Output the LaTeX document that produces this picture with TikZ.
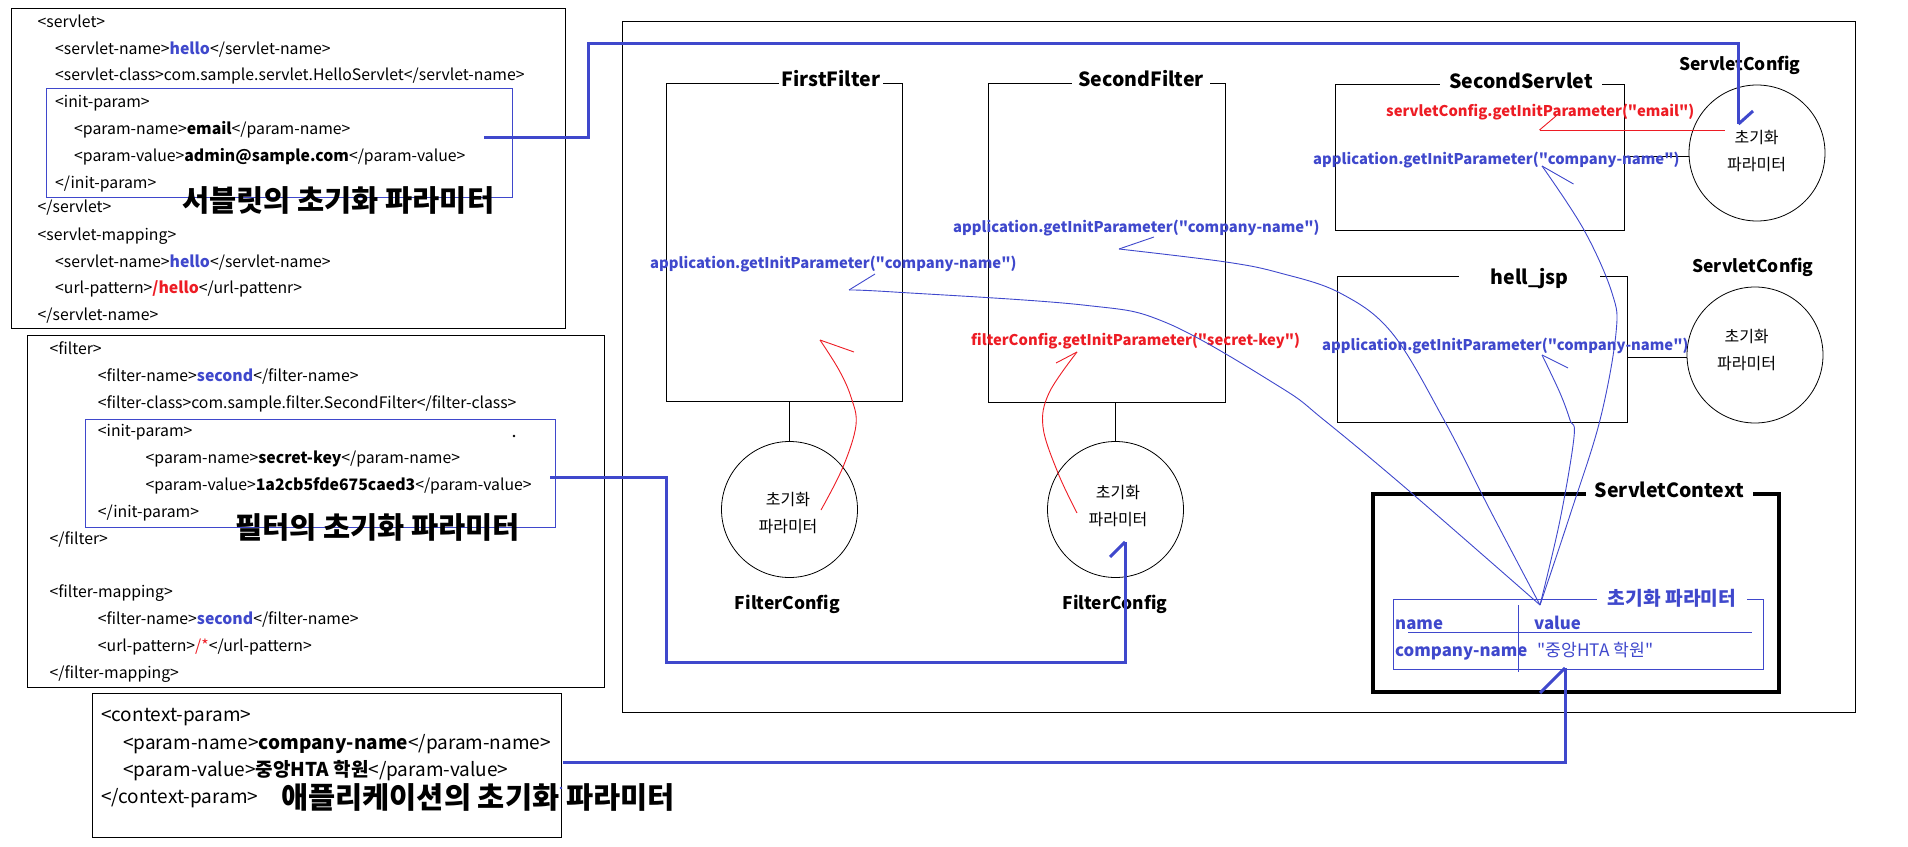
\documentclass[tikz,border=0pt]{standalone}
\usepackage{fontspec}
\setmainfont{Noto Sans CJK KR}[Ligatures=TeXOff]
\definecolor{pblue}{RGB}{63,72,204}
\definecolor{pred}{RGB}{237,28,36}
\newcommand{\hlb}[1]{\textcolor{pblue}{\bfseries #1}}
\newcommand{\hlr}[1]{\textcolor{pred}{\bfseries #1}}
\begin{document}
\begin{tikzpicture}[x=1pt,y=-1pt,
  xml/.style={anchor=base west, inner sep=0pt, font=\fontsize{15.8}{19}\selectfont},
  xmlbig/.style={anchor=base west, inner sep=0pt, font=\fontsize{19}{22}\selectfont},
  ktitle/.style={anchor=base west, inner sep=0pt, font=\fontsize{29.5}{32}\selectfont\bfseries},
  frame/.style={draw, line width=1pt, rectangle, inner sep=0pt, anchor=north west},
  bframe/.style={frame, draw=pblue},
  ttl/.style={fill=white, inner sep=0pt, font=\fontsize{19.5}{23}\selectfont\bfseries},
  cfglabel/.style={inner sep=0pt, font=\fontsize{17.4}{21}\selectfont\bfseries},
  param/.style={circle, draw, line width=0.8pt, minimum size=136pt, inner sep=0pt},
  ptext/.style={align=center, inner sep=0pt, font=\fontsize{16}{27}\selectfont},
  call/.style={anchor=base west, inner sep=0pt, font=\fontsize{14.8}{18}\selectfont\bfseries},
  tcell/.style={anchor=base west, inner sep=0pt, text=pblue, font=\fontsize{17.2}{20}\selectfont},
  tcellb/.style={tcell, font=\fontsize{16.8}{20}\selectfont\bfseries},
  biglink/.style={draw=pblue, line width=3pt},
  thinblue/.style={draw=pblue, line width=0.9pt},
  thinred/.style={draw=pred, line width=0.9pt}
]
\useasboundingbox (0,0) rectangle (1908,846);

% ---------------- left XML boxes ----------------
\node[frame, minimum width=554pt, minimum height=320pt] (box1) at (11,8) {};
\node[bframe, minimum width=466pt, minimum height=109pt] (ip1) at (46,88) {};
\node[xml] (l11) at (37.5,27) {<servlet>};
\node[xml] (l12) at (55,54) {<servlet-name>\hlb{hello}</servlet-name>};
\node[xml] (l13) at (55,80.3) {<servlet-class>com.sample.servlet.HelloServlet</servlet-name>};
\node[xml] (l14) at (55,107.7) {<init-param>};
\node[xml] (l15) at (74,134.7) {<param-name>\textbf{email}</param-name>};
\node[xml] (l16) at (74,161.7) {<param-value>\textbf{admin@sample.com}</param-value>};
\node[xml] (l17) at (55,188.7) {</init-param>};
\node[xml] (l18) at (37.5,212.7) {</servlet>};
\node[xml] (l19) at (37.5,240.3) {<servlet-mapping>};
\node[xml] (l1a) at (55,267) {<servlet-name>\hlb{hello}</servlet-name>};
\node[xml] (l1b) at (55,293.7) {<url-pattern>\hlr{/hello}</url-pattenr>};
\node[xml] (l1c) at (37.5,320.3) {</servlet-name>};
\node[ktitle] (k1) at (182,211) {서블릿의 초기화 파라미터};

\node[frame, minimum width=577pt, minimum height=352pt] (box2) at (27,335) {};
\node[bframe, minimum width=470pt, minimum height=108pt] (ip2) at (85,419) {};
\node[xml] (l21) at (49.4,354.3) {<filter>};
\node[xml] (l22) at (97.7,381.7) {<filter-name>\hlb{second}</filter-name>};
\node[xml] (l23) at (97.7,408.7) {<filter-class>com.sample.filter.SecondFilter</filter-class>};
\node[xml] (l24) at (97.7,436) {<init-param>};
\node[xml] (l25) at (145.5,463) {<param-name>\textbf{secret-key}</param-name>};
\node[xml] (l26) at (145.5,490) {<param-value>\textbf{1a2cb5fde675caed3}</param-value>};
\node[xml] (l27) at (97.7,517) {</init-param>};
\node[xml] (l28) at (49.4,544.3) {</filter>};
\node[xml] (l29) at (49.4,597.7) {<filter-mapping>};
\node[xml] (l2a) at (97.7,624.7) {<filter-name>\hlb{second}</filter-name>};
\node[xml] (l2b) at (97.7,651.7) {<url-pattern>\textcolor{pred}{/*}</url-pattern>};
\node[xml] (l2c) at (49.4,678.7) {</filter-mapping>};
\node[ktitle] (k2) at (235,538) {필터의 초기화 파라미터};
\fill (514,436) circle (1.3pt);

\node[frame, minimum width=469pt, minimum height=144pt] (box3) at (92,693) {};
\node[xmlbig] (l31) at (101,721.8) {<context-param>};
\node[xmlbig] (l32) at (123,749.8) {<param-name>\textbf{company-name}</param-name>};
\node[xmlbig] (l33) at (123,776.8) {<param-value>\textbf{중앙HTA 학원}</param-value>};
\node[xmlbig] (l34) at (101,803.8) {</context-param>};
\node[ktitle] (k3) at (281,808) {애플리케이션의 초기화 파라미터};
\fill[pblue] (561,788) circle (1.3pt);

% ---------------- right container ----------------
\node[frame, minimum width=1233pt, minimum height=691pt] (outer) at (622,21) {};

\node[frame, minimum width=236.5pt, minimum height=318pt] (ff) at (665.5,83) {};
\node[ttl, minimum width=104pt] (fft) at (831,79) {FirstFilter};
\node[frame, minimum width=237pt, minimum height=319pt] (sf) at (988,83) {};
\node[ttl, minimum width=138pt] (sft) at (1141,79) {SecondFilter};
\node[frame, minimum width=289.5pt, minimum height=146pt] (ss) at (1334.5,84) {};
\node[ttl, minimum width=162pt] (sst) at (1521,81) {SecondServlet};
\node[frame, minimum width=290pt, minimum height=146pt] (hj) at (1337,276) {};
\node[ttl, minimum width=141pt] (hjt) at (1529.5,279) {hell\_jsp};
\node[frame, line width=3.5pt, minimum width=406pt, minimum height=198pt] (sc) at (1371,492) {};
\node[ttl, minimum width=167pt] (sct) at (1669.3,490) {ServletContext};

% table of init parameters
\node[bframe, minimum width=369.6pt, minimum height=70pt] (tb) at (1393,599) {};
\node[ttl, minimum width=150pt, text=pblue, font=\fontsize{19.2}{22}\selectfont\bfseries] (tbt) at (1672,598) {초기화 파라미터};
\draw[pblue, line width=1pt] (1518.7,605) -- (1518.7,672);
\draw[pblue, line width=1pt] (1408,632) -- (1752,632);
\node[tcellb] (hname) at (1395,629) {name};
\node[tcellb] (hvalue) at (1534,629) {value};
\node[tcellb] (cname) at (1395,656.3) {company-name};
\node[tcell] (cvalue) at (1537,656.3) {"중앙HTA 학원"};

% config circles
\node[param] (c1) at (789.5,509.5) {};
\node[param] (c2) at (1115.5,509.5) {};
\node[param] (c3) at (1757,153) {};
\node[param] (c4) at (1755,355) {};
\node[ptext] (c1t) at (788,513.5) {초기화\\파라미터};
\node[ptext] (c2t) at (1118,506.5) {초기화\\파라미터};
\node[ptext] (c3t) at (1756.6,151) {초기화\\파라미터};
\node[ptext] (c4t) at (1746.6,350.5) {초기화\\파라미터};
\node[cfglabel] (fc1) at (787.5,604) {FilterConfig};
\node[cfglabel] (fc2) at (1115,604) {FilterConfig};
\node[cfglabel] (scf1) at (1740,65) {ServletConfig};
\node[cfglabel] (scf2) at (1753,267) {ServletConfig};

\draw[line width=1pt] (c1.north |- ff.south) -- (c1.north);
\draw[line width=1pt] (c2.north |- sf.south) -- (c2.north);
\draw[line width=1pt] (ss.east |- 0,156) -- (c3.west |- 0,156);
\draw[line width=1pt] (hj.east |- 0,357) -- (c4.west |- 0,357);

% method calls
\node[call, text=pblue] (a1) at (650,268.5) {application.getInitParameter("company-name")};
\node[call, text=pblue] (a2) at (953,232.5) {application.getInitParameter("company-name")};
\node[call, text=pblue] (a3) at (1313,164.5) {application.getInitParameter("company-name")};
\node[call, text=pblue] (a4) at (1322,350.5) {application.getInitParameter("company-name")};
\node[call, text=pred] (r1) at (1386,116.5) {servletConfig.getInitParameter("email")};
\node[call, text=pred] (r2) at (971,345.5) {filterConfig.getInitParameter("secret-key")};

% ---------------- thin curves ----------------
\coordinate (conv) at (1540,605);
\coordinate (t1) at (849,290);
\coordinate (t2) at (1119,249);
\coordinate (t3) at (1542,166);
\coordinate (t4) at (1542,355);
\draw[thinblue] plot[smooth, tension=0.6] coordinates {(t1) (894,292) (1083,305) (1167,323) (1280,387) (1324,420) (1408,490) (conv)};
\draw[thinblue] (t1) -- ++(26,-16);
\draw[thinblue] plot[smooth, tension=0.6] coordinates {(t2) (1226,262) (1280,273) (1340,293) (1392,333) (1444,420) (1490,510) (conv)};
\draw[thinblue] (t2) -- ++(35,-12);
\draw[thinblue] plot[smooth, tension=0.6] coordinates {(t3) (1584,230) (1612,293) (1616,333) (1600,420) (1571,512) (conv)};
\draw[thinblue] (t3) -- ++(31.5,18);
\draw[thinblue] plot[smooth, tension=0.6] coordinates {(t4) (1560,393) (1570,420) (1574,437) (1560,520) (conv)};
\draw[thinblue] (t4) -- ++(26,13);

\coordinate (s5) at (821,510);
\coordinate (t5) at (820,340);
\draw[thinred] plot[smooth, tension=0.6] coordinates {(s5) (843,467) (856,425) (851,397) (839,370) (t5)};
\draw[thinred] (t5) -- ++(34,12);
\coordinate (s6) at (1077,513);
\coordinate (t6) at (1077,352);
\draw[thinred] plot[smooth, tension=0.6] coordinates {(s6) (1058,473) (1043,427) (1049,393) (t6)};
\draw[thinred] (t6) -- ++(-21,11);
\coordinate (s7) at (1724.5,130);
\coordinate (t7) at (1539.5,130);
\draw[thinred] (s7) -- (t7);
\draw[thinred] (t7) -- ++(16.5,-14);

% ---------------- thick blue links ----------------
\coordinate (p8) at (484,137);
\coordinate (t8) at (1738.5,124);
\draw[biglink] (p8) -| (588,43) -| (t8);
\draw[biglink] (t8) -- ++(14.5,-13);
\coordinate (p9) at (550,477);
\coordinate (t9) at (1125,542);
\draw[biglink] (p9) -| (666,662) -| (t9);
\draw[biglink] (t9) -- ++(-15,15);
\coordinate (p10) at (563,762);
\coordinate (t10) at (1565,668);
\draw[biglink] (p10) -| (t10);
\draw[biglink] (t10) -- ++(-25,25);
\end{tikzpicture}
\end{document}
